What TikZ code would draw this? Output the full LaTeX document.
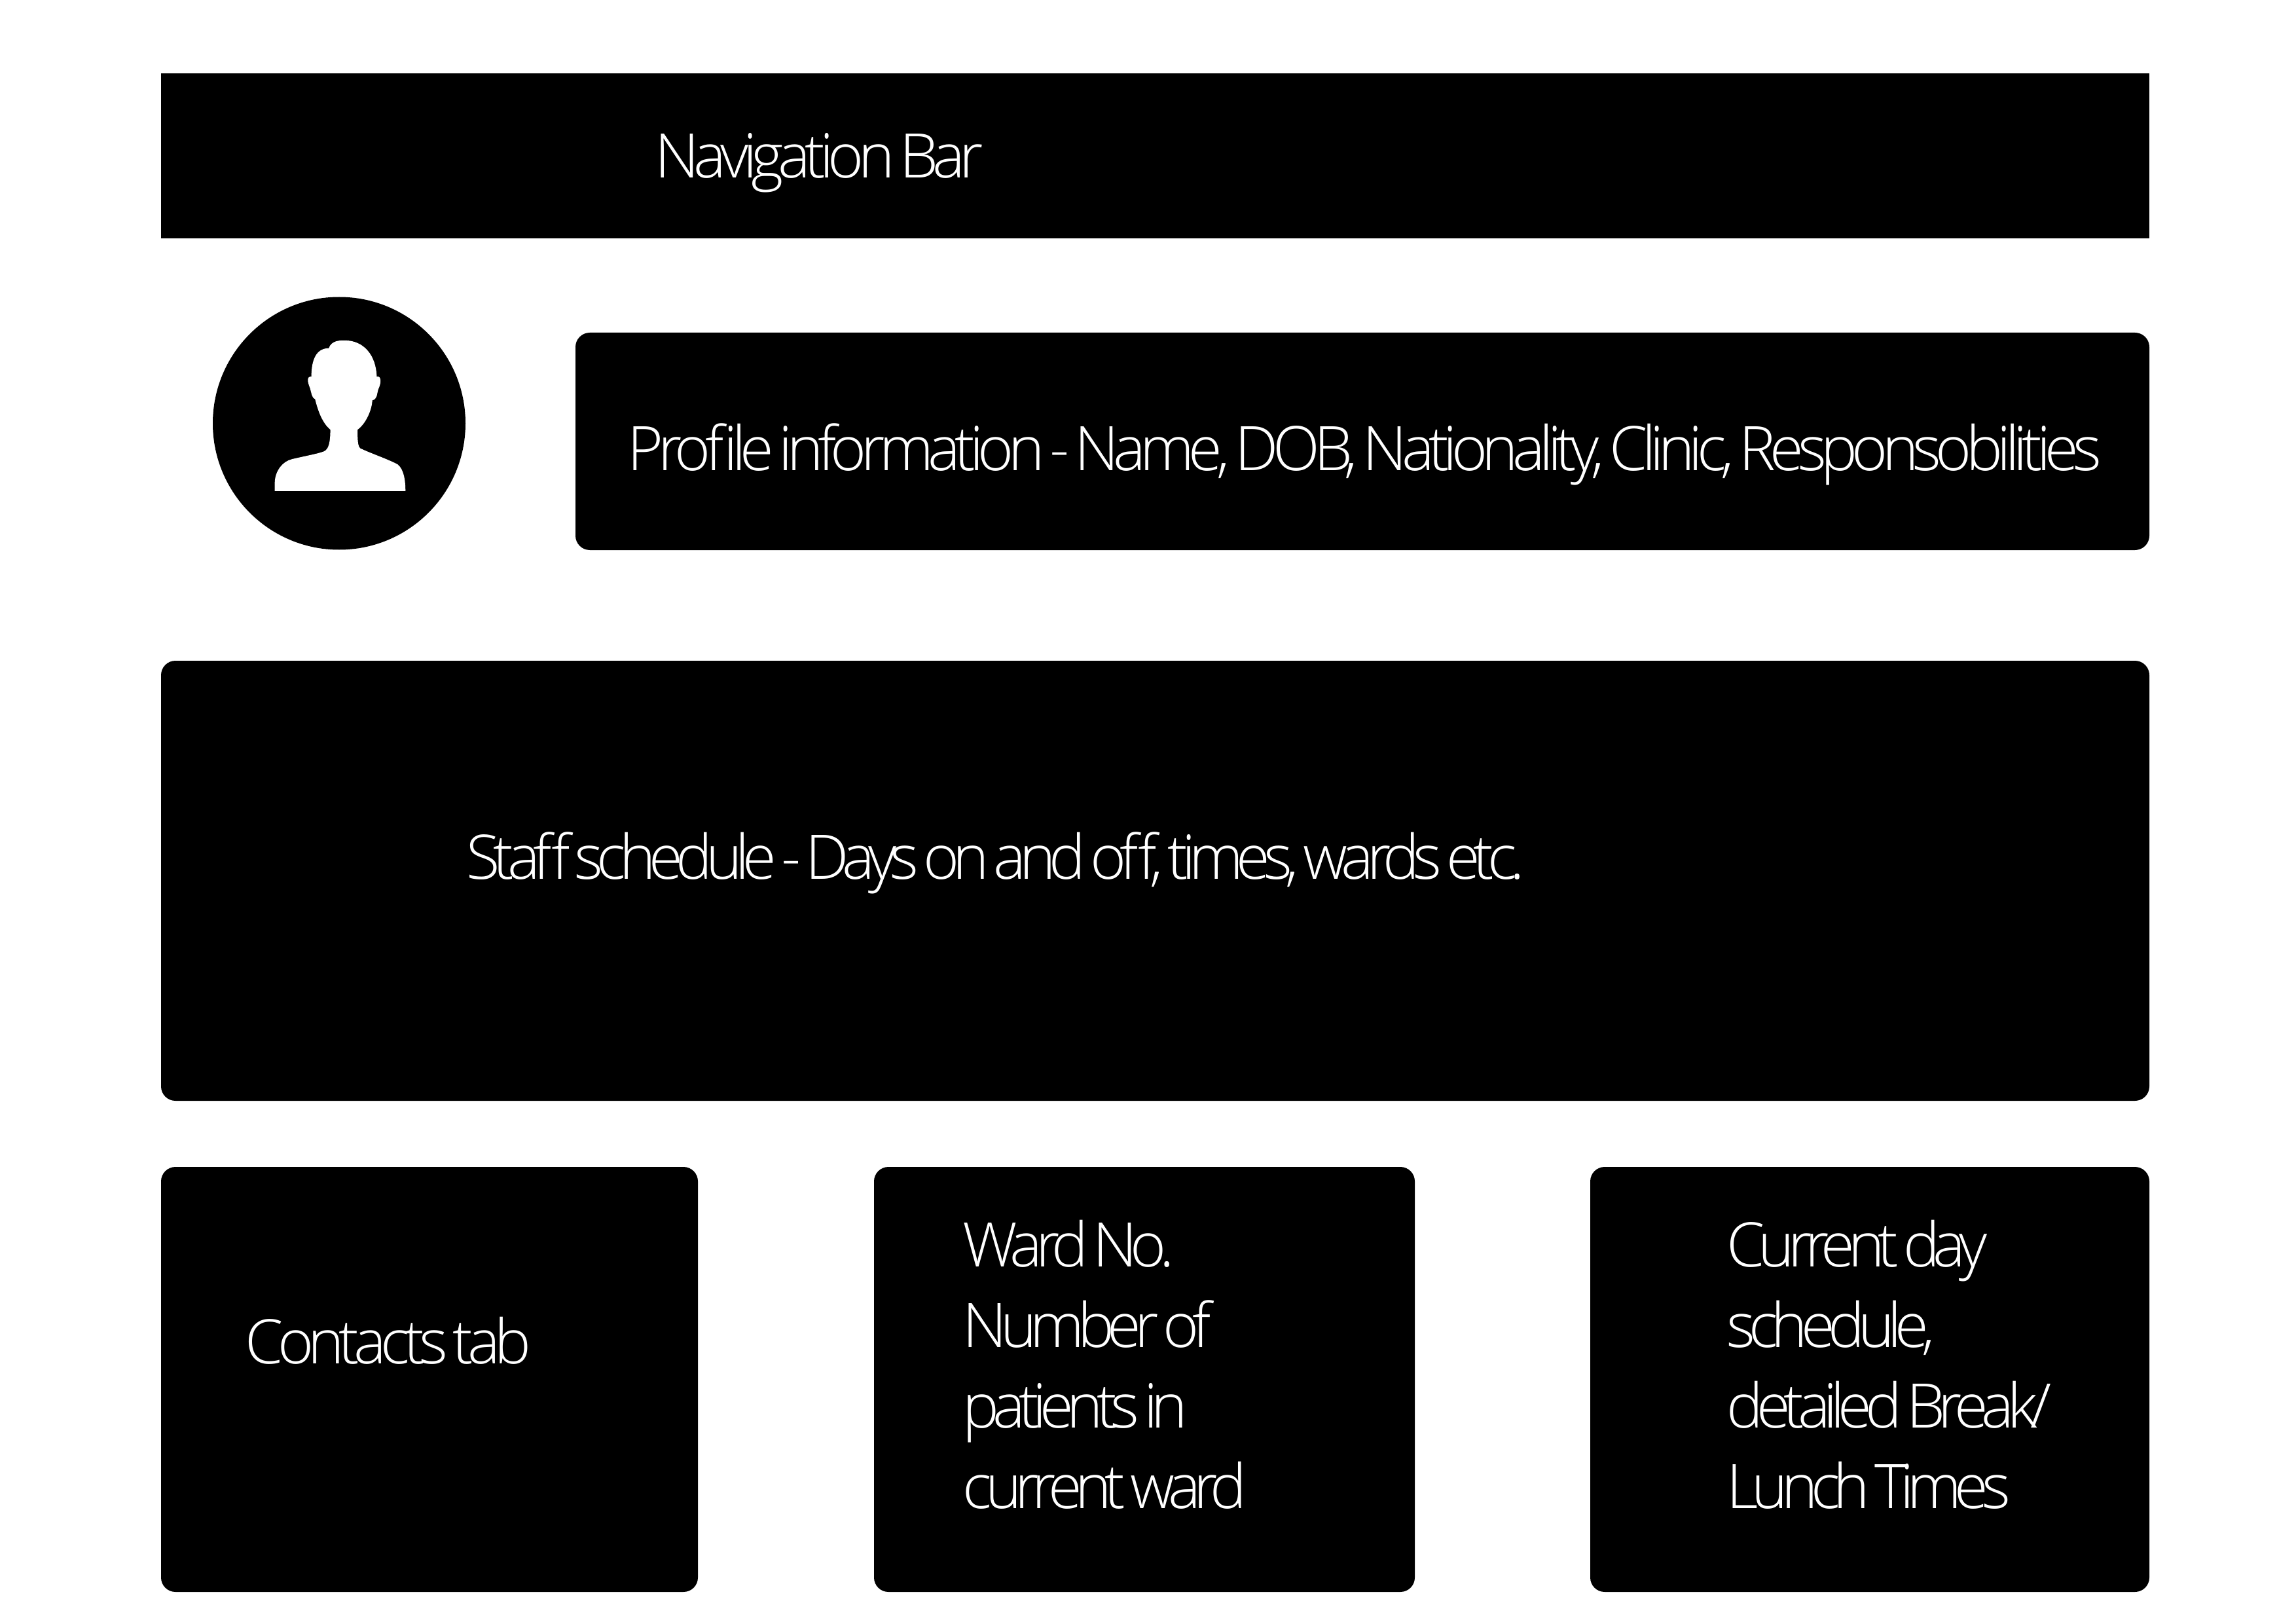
\documentclass[tikz,border=0pt]{standalone}
\usepackage{fontspec}
\setmainfont{Open Sans}[UprightFont=* Light,LetterSpace=-9.2,WordSpace=0.5]
\newfontfamily\tightfont{Open Sans}[UprightFont=* Light,LetterSpace=-10.8,WordSpace=0.5]
\usetikzlibrary{positioning}
\tikzset{
  panel/.style={fill=black,draw=none,rounded corners=0.22cm},
  caption/.style={text=white,anchor=base west,align=left,inner sep=0pt,
    font=\fontsize{26.7pt}{35pt}\selectfont},
  tightcaption/.style={caption,font=\tightfont\fontsize{26.7pt}{35pt}\selectfont},
}
% x1 y1 x2 y2 in reference pixels, y from the top
\newcommand\panelbox[5]{
  \path[panel,#5] (#1/100,-#2/100) rectangle (#3/100,-#4/100);
}
\begin{document}
\begin{tikzpicture}
  \useasboundingbox (0,0) rectangle (35.07,-24.80);

  \panelbox{246}{112}{3283}{364}{sharp corners}
  \panelbox{879}{508}{3283}{840}{}
  \panelbox{246}{1009}{3283}{1681}{}
  \panelbox{246}{1782}{1066}{2431}{}
  \panelbox{1335}{1782}{2161}{2431}{}
  \panelbox{2429}{1782}{3283}{2431}{}

  \node[caption] (navbar) at (10.00,-2.72) {Navigation Bar};
  \node[caption] (profile) at (9.58,-7.18) {Profile information - Name, DOB, Nationality, Clinic, Responsobilities};
  \node[tightcaption] (schedule) at (7.12,-13.42) {Staff schedule - Days on and off, times, wards etc.};
  \node[caption] (contacts) at (3.74,-20.82) {Contacts tab};
  \node[tightcaption,anchor=north west] (ward) at (14.70,-18.62) {Ward No.\\Number of\\patients in\\current ward};
  \node[tightcaption,anchor=north west] (today) at (26.37,-18.62) {Current day\\schedule,\\detailed Break/\\Lunch Times};

  % avatar
  \fill (5.18,-6.465) circle (1.93);
  \begin{scope}[shift={(3,-4.3)},x=0.003333cm,y=-0.003333cm]
    \fill[white] (360,962) -- (360,920) .. controls (362,870) and (395,825) .. (440,815)
      .. controls (490,803) and (560,790) .. (585,780) .. controls (610,770) and (615,730) .. (615,680)
      .. controls (580,650) and (560,600) .. (545,540) .. controls (530,535) and (528,510) .. (522,490)
      .. controls (510,460) and (505,436) .. (528,436) .. controls (528,380) and (540,306) .. (608,306)
      .. controls (620,270) and (660,270) .. (680,270) .. controls (770,270) and (825,340) .. (828,436)
      .. controls (850,432) and (850,465) .. (835,495) .. controls (828,520) and (830,540) .. (808,545)
      .. controls (805,590) and (780,650) .. (740,680) .. controls (740,720) and (740,755) .. (752,765)
      .. controls (790,785) and (880,815) .. (925,840) .. controls (955,865) and (960,920) .. (960,962)
      -- cycle;
  \end{scope}
\end{tikzpicture}
\end{document}
